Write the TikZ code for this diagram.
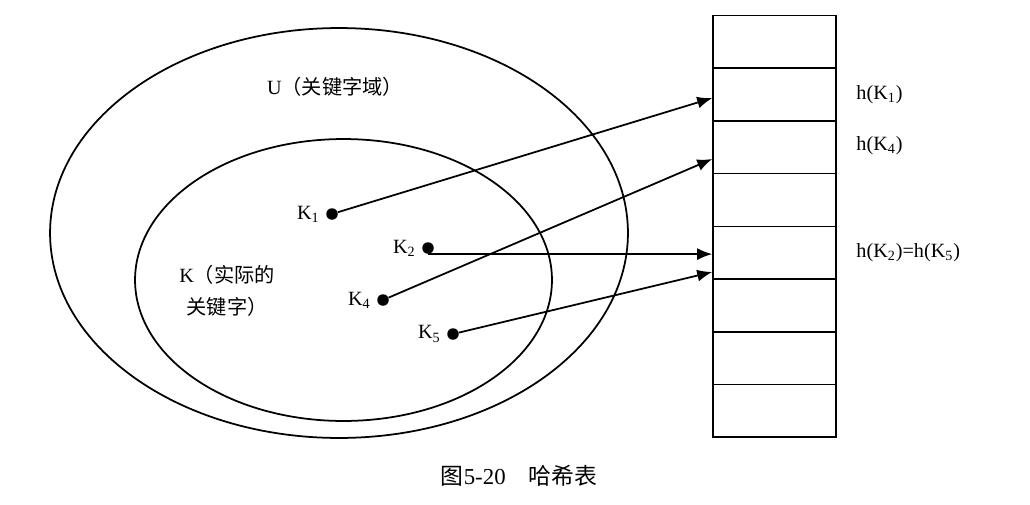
\documentclass[tikz,border=0pt]{standalone}
\usepackage{fontspec}
\setmainfont{Liberation Serif}
\newfontfamily\cjk{Noto Sans CJK SC}
\usetikzlibrary{arrows.meta,positioning,shapes.geometric}

\begin{document}
\begin{tikzpicture}[x=0.02cm,y=-0.02cm,font=\fontsize{11.5}{13}\selectfont,
    keyset/.style={draw,ellipse,line width=1pt,inner sep=0pt},
    keydot/.style={circle,fill,inner sep=0pt,minimum size=0.23cm},
    slot/.style={draw,line width=0.9pt,inner sep=0pt,minimum width=2.46cm,minimum height=1.054cm},
    hashlink/.style={line width=1pt,-{Latex[length=3mm,width=2.4mm]}}]
    \useasboundingbox (0,0) rectangle (1030,504);

    \node [keyset,minimum width=11.56cm,minimum height=8.2cm] (universe) at (339,233) {};
    \node [keyset,minimum width=8.34cm,minimum height=5.64cm] (actual) at (343.5,280) {};
    \node (ulabel) at (335,87) {U{\cjk（关键字域）}};
    \node [align=center,font=\fontsize{11.5}{18}\selectfont] (klabel) at (227,291) {K{\cjk（实际的}\\{\cjk 关键字）}};

    \node [keydot,label={[label distance=0pt]left:K\textsubscript{1}}] (k1) at (332,214) {};
    \node [keydot,label={[label distance=0pt]left:K\textsubscript{2}}] (k2) at (428,248) {};
    \node [keydot,label={[label distance=0pt]left:K\textsubscript{4}}] (k4) at (383,300) {};
    \node [keydot,label={[label distance=0pt]left:K\textsubscript{5}}] (k5) at (453,334) {};

    \foreach \i in {1,...,8}
        \node [slot] (slot\i) at (774.5,{15.5+52.7*(\i-0.5)}) {};

    \node [right=0.27cm of slot2] (h1) {h(K\textsubscript{1})};
    \node [right=0.27cm of slot3,yshift=0.04cm] (h4) {h(K\textsubscript{4})};
    \node [right=0.27cm of slot5] (h25) {h(K\textsubscript{2})=h(K\textsubscript{5})};

    \draw [hashlink] (k1) -- ([yshift=-0.07cm]slot2.west);
    \draw [hashlink] (k4) -- ([yshift=-0.235cm]slot3.west);
    \draw [hashlink] (k2.south) -- (k2.south -| slot5.west);
    \draw [hashlink] (k5) -- ([yshift=-0.387cm]slot5.west);

    \node [font=\fontsize{13}{15}\selectfont] (caption) at (519,476) {{\cjk 图}5-20\quad{\cjk 哈希表}};
\end{tikzpicture}
\end{document}
